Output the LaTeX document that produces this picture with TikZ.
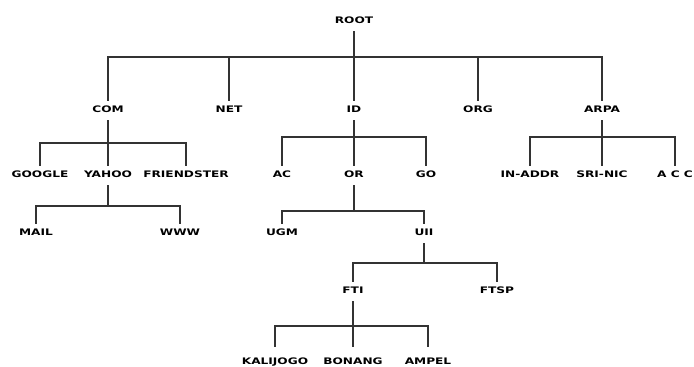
\documentclass[tikz,border=0pt]{standalone}
\usepackage{fontspec}
\newfontfamily\dnsfont[FakeStretch=1.35]{DejaVu Sans}
\tikzset{
  lbl/.style={font=\dnsfont\bfseries\fontsize{9}{10}\selectfont, anchor=base,
    inner xsep=2pt, inner ysep=4pt, text height=7pt, text depth=4pt},
  lowlbl/.style={lbl, text height=13pt, text depth=1pt},
  link/.style={draw=black!80, line width=1.2pt},
}

\begin{document}
\begin{tikzpicture}[x=1pt,y=-1pt]
  \useasboundingbox (0,0) rectangle (694,367);
  % domain names
  \node[lbl] (root) at (354,23) {ROOT};
  \node[lbl] (com) at (108,112) {COM};
  \node[lbl] (net) at (229,112) {NET};
  \node[lbl] (id) at (354,112) {ID};
  \node[lbl] (org) at (478,112) {ORG};
  \node[lbl] (arpa) at (602,112) {ARPA};
  \node[lbl] (google) at (40,177) {GOOGLE};
  \node[lbl] (yahoo) at (108,177) {YAHOO};
  \node[lbl] (friendster) at (186,177) {FRIENDSTER};
  \node[lbl] (ac) at (282,177) {AC};
  \node[lbl] (or) at (354,177) {OR};
  \node[lbl] (go) at (426,177) {GO};
  \node[lbl] (inaddr) at (530,177) {IN-ADDR};
  \node[lbl] (srinic) at (602,177) {SRI-NIC};
  \node[lbl] (acc) at (675,177) {A C C};
  \node[lbl] (mail) at (36,235) {MAIL};
  \node[lbl] (www) at (180,235) {WWW};
  \node[lbl] (ugm) at (282,235) {UGM};
  \node[lbl] (uii) at (424,235) {UII};
  \node[lbl] (fti) at (353,293) {FTI};
  \node[lbl] (ftsp) at (497,293) {FTSP};
  \node[lowlbl] (kalijogo) at (275,364) {KALIJOGO};
  \node[lowlbl] (bonang) at (353,364) {BONANG};
  \node[lowlbl] (ampel) at (428,364) {AMPEL};
  % branch points
  \coordinate (rootbar) at (354,57);
  \coordinate (combar) at (108,143);
  \coordinate (idbar) at (354,137);
  \coordinate (arpabar) at (602,137);
  \coordinate (yahoobar) at (108,206);
  \coordinate (orbar) at (354,211);
  \coordinate (uiibar) at (424,263);
  \coordinate (ftibar) at (353,326);
  % tree
  \draw[link] (root.south) -- (rootbar);
  \foreach \c in {com,net,id,org,arpa} \draw[link] (rootbar) -| (\c.north);
  \draw[link] (com.south) -- (combar);
  \foreach \c in {google,yahoo,friendster} \draw[link] (combar) -| (\c.north);
  \draw[link] (id.south) -- (idbar);
  \foreach \c in {ac,or,go} \draw[link] (idbar) -| (\c.north);
  \draw[link] (arpa.south) -- (arpabar);
  \foreach \c in {inaddr,srinic,acc} \draw[link] (arpabar) -| (\c.north);
  \draw[link] (yahoo.south) -- (yahoobar);
  \foreach \c in {mail,www} \draw[link] (yahoobar) -| (\c.north);
  \draw[link] (or.south) -- (orbar);
  \foreach \c in {ugm,uii} \draw[link] (orbar) -| (\c.north);
  \draw[link] (uii.south) -- (uiibar);
  \foreach \c in {fti,ftsp} \draw[link] (uiibar) -| (\c.north);
  \draw[link] (fti.south) -- (ftibar);
  \foreach \c in {kalijogo,bonang,ampel} \draw[link] (ftibar) -| (\c.north);
\end{tikzpicture}
\end{document}
